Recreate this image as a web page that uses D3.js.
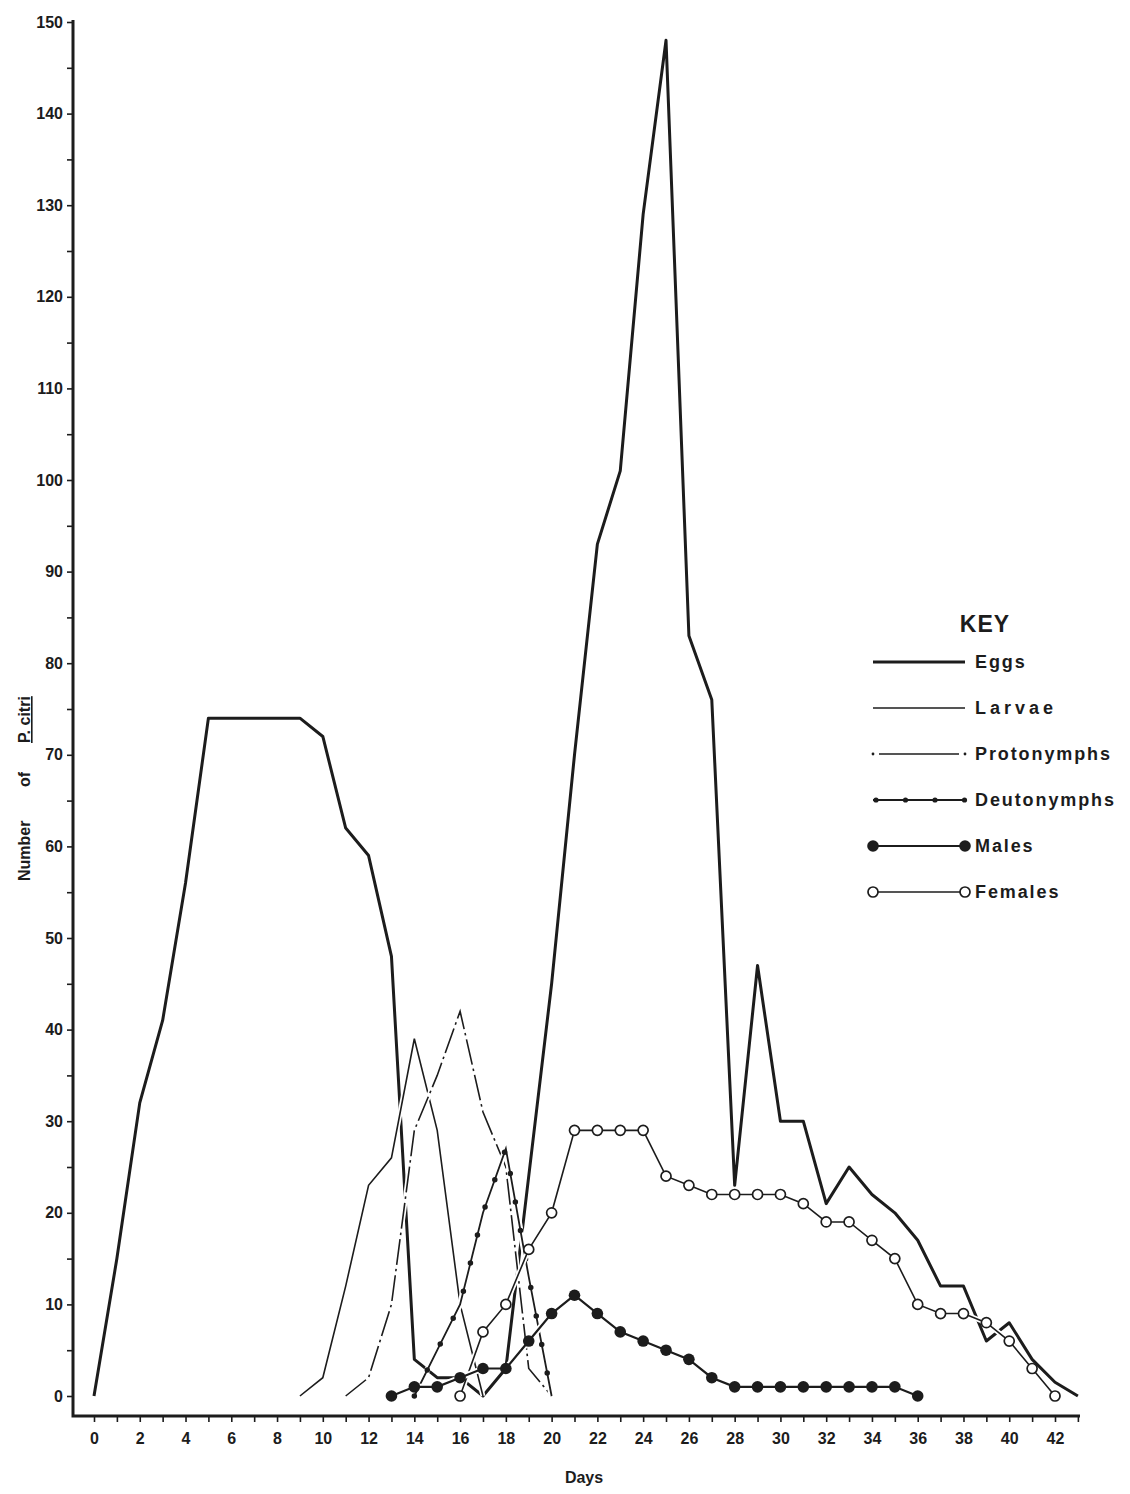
<!DOCTYPE html>
<html>
<head>
<meta charset="utf-8">
<script src="https://cdn.jsdelivr.net/npm/d3@7"></script>
<style>
  body { margin: 0; background: #ffffff; }
  svg { display: block; }
  text { font-family: "Liberation Sans", Arial, sans-serif; font-weight: bold; fill: #1c1c1c; }
</style>
</head>
<body>
<svg id="chart" width="1130" height="1494"></svg>
<script>
// Population counts of P. citri per day, by life stage
const eggDays = d3.range(0, 44);
const eggCounts = [0, 15, 32, 41, 56, 74, 74, 74, 74, 74, 72, 62, 59, 48, 4, 2, 2, 0, 3, 24,
                   45, 70, 93, 101, 129, 148, 83, 76, 23, 47, 30, 30, 21, 25, 22, 20, 17, 12, 12, 6,
                   8, 4, 1.5, 0];

const larvaDays = d3.range(9, 18);
const larvaCounts = [0, 2, 12, 23, 26, 39, 29, 10, 0];

const protoDays = d3.range(11, 21);
const protoCounts = [0, 2, 10, 29, 35, 42, 31, 25, 3, 0];

const deutoDays = d3.range(14, 21);
const deutoCounts = [0, 5, 10, 20, 27, 13, 0];

const maleDays = d3.range(13, 37);
const maleCounts = [0, 1, 1, 2, 3, 3, 6, 9, 11, 9, 7, 6, 5, 4, 2, 1, 1, 1, 1, 1, 1, 1, 1, 0];

const femaleDays = d3.range(16, 43);
const femaleCounts = [0, 7, 10, 16, 20, 29, 29, 29, 29, 24, 23, 22, 22, 22, 22, 21, 19, 19, 17, 15,
                      10, 9, 9, 8, 6, 3, 0];

const xTickValues = d3.range(0, 44);
const yTickValues = d3.range(0, 151, 5);
const legendLabels = ["Eggs", "Larvae", "Protonymphs", "Deutonymphs", "Males", "Females"];

const zip = (ds, vs) => ds.map((d, i) => ({ d, v: vs[i] }));

const svg = d3.select("#chart");
const ink = "#1c1c1c";

const x = d3.scaleLinear().domain([0, 42]).range([94, 1055]);
const y = d3.scaleLinear().domain([0, 150]).range([1396, 22]);

const axisX0 = 73, axisY0 = 1416, axisX1 = 1080, axisTop = 20;

// ---- axes ----
const yAxis = d3.axisLeft(y)
  .tickValues(yTickValues)
  .tickSize(6)
  .tickPadding(4)
  .tickFormat(v => (v % 10 === 0 ? v : ""));
const gy = svg.append("g").attr("transform", `translate(${axisX0},0)`).call(yAxis);
gy.select(".domain").remove();
gy.selectAll(".tick line").attr("stroke", ink).attr("stroke-width", 1.6);
gy.selectAll(".tick text").attr("font-size", 16).attr("fill", ink)
  .attr("font-family", "Liberation Sans, Arial, sans-serif").attr("font-weight", "bold");

const xAxis = d3.axisBottom(x)
  .tickValues(xTickValues)
  .tickSize(6)
  .tickPadding(11)
  .tickFormat(v => (v % 2 === 0 && v <= 42 ? v : ""));
const gx = svg.append("g").attr("transform", `translate(0,${axisY0})`).call(xAxis);
gx.select(".domain").remove();
gx.selectAll(".tick line").attr("stroke", ink).attr("stroke-width", 1.6);
gx.selectAll(".tick text").attr("font-size", 16).attr("fill", ink)
  .attr("font-family", "Liberation Sans, Arial, sans-serif").attr("font-weight", "bold");

svg.append("path")
  .attr("d", `M${axisX0},${axisTop} V${axisY0} H${axisX1}`)
  .attr("fill", "none").attr("stroke", ink).attr("stroke-width", 3);

// axis titles
svg.append("text").attr("x", 584).attr("y", 1483).attr("text-anchor", "middle")
  .attr("font-size", 16).text("Days");

const yTitle = svg.append("g").attr("transform", "rotate(-90)");
yTitle.append("text").attr("x", -881).attr("y", 30).attr("font-size", 16).text("Number");
yTitle.append("text").attr("x", -787).attr("y", 30).attr("font-size", 16).text("of");
yTitle.append("text").attr("x", -743).attr("y", 30).attr("font-size", 16)
  .attr("text-decoration", "underline").text("P. citri");

// ---- series ----
const line = d3.line().x(p => x(p.d)).y(p => y(p.v));

function halo(data, w) {
  svg.append("path").datum(data).attr("d", line)
    .attr("fill", "none").attr("stroke", "#ffffff").attr("stroke-width", w)
    .attr("stroke-linejoin", "round");
}

// Eggs: heavy solid line
const eggs = zip(eggDays, eggCounts);
svg.append("path").datum(eggs).attr("d", line)
  .attr("fill", "none").attr("stroke", ink).attr("stroke-width", 3).attr("stroke-linejoin", "round");

// Larvae: thin solid line
const larvae = zip(larvaDays, larvaCounts);
halo(larvae, 5);
svg.append("path").datum(larvae).attr("d", line)
  .attr("fill", "none").attr("stroke", ink).attr("stroke-width", 1.6);

// Protonymphs: dash-dot line
const proto = zip(protoDays, protoCounts);
halo(proto, 5);
svg.append("path").datum(proto).attr("d", line)
  .attr("fill", "none").attr("stroke", ink).attr("stroke-width", 1.6)
  .attr("stroke-dasharray", "26 4 2.5 4");

// Deutonymphs: line with small dots along it
const deuto = zip(deutoDays, deutoCounts);
halo(deuto, 6);
svg.append("path").datum(deuto).attr("d", line)
  .attr("fill", "none").attr("stroke", ink).attr("stroke-width", 1.8);
svg.append("path").datum(deuto).attr("d", line)
  .attr("fill", "none").attr("stroke", ink).attr("stroke-width", 5.5)
  .attr("stroke-linecap", "round").attr("stroke-dasharray", "0 29");

// Females: open circles
const females = zip(femaleDays, femaleCounts);
halo(females, 5);
svg.append("path").datum(females).attr("d", line)
  .attr("fill", "none").attr("stroke", ink).attr("stroke-width", 1.6);
svg.append("g").selectAll("circle").data(females).join("circle")
  .attr("cx", p => x(p.d)).attr("cy", p => y(p.v)).attr("r", 5)
  .attr("fill", "#ffffff").attr("stroke", ink).attr("stroke-width", 1.7);

// Males: filled circles
const males = zip(maleDays, maleCounts);
halo(males, 6);
svg.append("path").datum(males).attr("d", line)
  .attr("fill", "none").attr("stroke", ink).attr("stroke-width", 2.2);
svg.append("g").selectAll("circle").data(males).join("circle")
  .attr("cx", p => x(p.d)).attr("cy", p => y(p.v)).attr("r", 5.8)
  .attr("fill", ink);

// ---- key ----
const key = svg.append("g");
key.append("text").attr("x", 985).attr("y", 632).attr("text-anchor", "middle")
  .attr("font-size", 23).attr("letter-spacing", 1).text("KEY");

const rowY = d3.scalePoint().domain(legendLabels).range([662, 892]);
const kx0 = 873, kx1 = 965;

legendLabels.forEach(name => {
  const ry = rowY(name);
  key.append("text").attr("x", 975).attr("y", ry).attr("dy", "0.36em")
    .attr("font-size", 18).attr("letter-spacing", name === "Larvae" ? 4 : 1.9).text(name);
});

// Eggs sample
key.append("line").attr("x1", kx0).attr("x2", kx1).attr("y1", rowY("Eggs")).attr("y2", rowY("Eggs"))
  .attr("stroke", ink).attr("stroke-width", 3);
// Larvae sample
key.append("line").attr("x1", kx0).attr("x2", kx1).attr("y1", rowY("Larvae")).attr("y2", rowY("Larvae"))
  .attr("stroke", ink).attr("stroke-width", 1.6);
// Protonymphs sample
key.append("line").attr("x1", kx0 + 6).attr("x2", kx1 - 6)
  .attr("y1", rowY("Protonymphs")).attr("y2", rowY("Protonymphs"))
  .attr("stroke", ink).attr("stroke-width", 1.6);
[kx0, kx1].forEach(cx => key.append("circle").attr("cx", cx).attr("cy", rowY("Protonymphs"))
  .attr("r", 1.4).attr("fill", ink));
// Deutonymphs sample
key.append("line").attr("x1", kx0).attr("x2", kx1)
  .attr("y1", rowY("Deutonymphs")).attr("y2", rowY("Deutonymphs"))
  .attr("stroke", ink).attr("stroke-width", 1.8);
d3.range(4).forEach(i => key.append("circle").attr("cx", kx0 + 3 + i * 29.5)
  .attr("cy", rowY("Deutonymphs")).attr("r", 2.6).attr("fill", ink));
// Males sample
key.append("line").attr("x1", kx0).attr("x2", kx1).attr("y1", rowY("Males")).attr("y2", rowY("Males"))
  .attr("stroke", ink).attr("stroke-width", 2.2);
[kx0, kx1].forEach(cx => key.append("circle").attr("cx", cx).attr("cy", rowY("Males"))
  .attr("r", 5.8).attr("fill", ink));
// Females sample
key.append("line").attr("x1", kx0).attr("x2", kx1).attr("y1", rowY("Females")).attr("y2", rowY("Females"))
  .attr("stroke", ink).attr("stroke-width", 1.6);
[kx0, kx1].forEach(cx => key.append("circle").attr("cx", cx).attr("cy", rowY("Females"))
  .attr("r", 5).attr("fill", "#ffffff").attr("stroke", ink).attr("stroke-width", 1.7));
</script>
</body>
</html>
